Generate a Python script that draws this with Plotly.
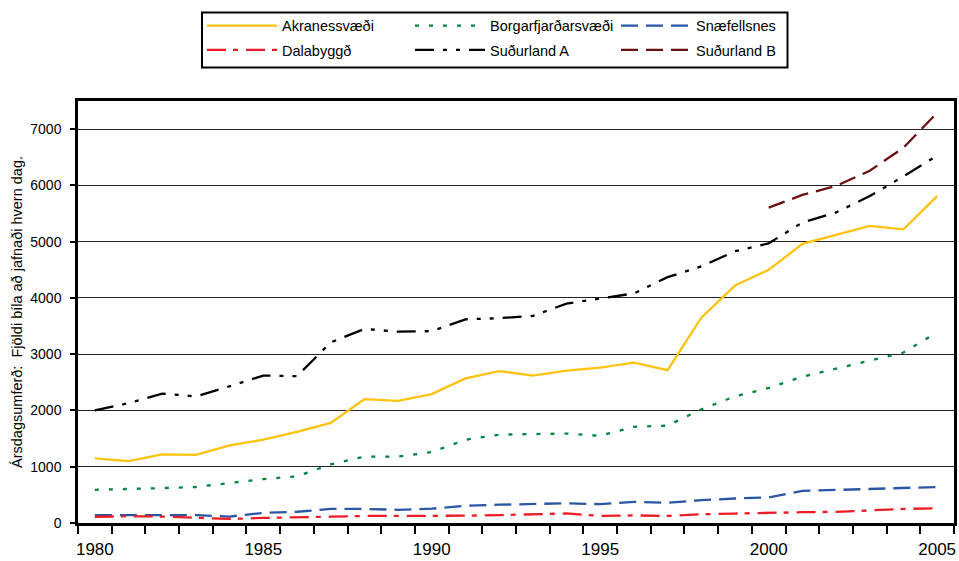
import plotly.graph_objects as go

years = list(range(1980, 2006))
akranes = [1150, 1100, 1220, 1210, 1380, 1480, 1620, 1780, 2200, 2170, 2290, 2570, 2700, 2620,
           2710, 2760, 2850, 2715, 3650, 4220, 4500, 4960, 5120, 5280, 5220, 5810]
borgarfj = [590, 600, 620, 640, 710, 780, 830, 1040, 1180, 1180, 1260, 1480, 1570, 1580,
            1590, 1550, 1710, 1730, 2020, 2250, 2400, 2600, 2740, 2880, 3030, 3390]
snaefells = [140, 140, 150, 140, 115, 180, 200, 250, 250, 235, 255, 305, 325, 340,
             350, 335, 375, 360, 405, 435, 455, 570, 590, 610, 625, 640]
dalabyggd = [110, 120, 115, 95, 72, 90, 95, 112, 125, 125, 125, 130, 140, 155,
             170, 125, 135, 125, 155, 168, 185, 192, 198, 228, 250, 262]
sudurA = [2000, 2130, 2300, 2250, 2430, 2620, 2610, 3210, 3450, 3400, 3410, 3620, 3640, 3680,
          3900, 3985, 4080, 4370, 4560, 4830, 4970, 5340, 5520, 5810, 6160, 6530]
sudurB_years = [2000, 2001, 2002, 2003, 2004, 2005]
sudurB = [5605, 5830, 5990, 6260, 6670, 7290]

y_title = "Ársdagsumferð:  Fjöldi bíla að jafnaði hvern dag."
x_ticks = [1980, 1985, 1990, 1995, 2000, 2005]
y_ticks = [0, 1000, 2000, 3000, 4000, 5000, 6000, 7000]

# name, x, y, colour, dash, legend id
series = [
    ("Akranessvæði", years, akranes, "#FFC20E", "solid", "legend"),
    ("Borgarfjarðarsvæði", years, borgarfj, "#00843F", "4px,10px", "legend2"),
    ("Snæfellsnes", years, snaefells, "#2B55A5", "17px,8px", "legend3"),
    ("Dalabyggð", years, dalabyggd, "#EC1C24", "19px,7px,5px,8px", "legend4"),
    ("Suðurland A", years, sudurA, "#000000", "19px,9px,4px,9px,4px,9px", "legend5"),
    ("Suðurland B", sudurB_years, sudurB, "#6B1013", "17px,8px", "legend6"),
]

fig = go.Figure()
for name, xs, ys, color, dash, leg in series:
    fig.add_trace(go.Scatter(x=xs, y=ys, name=name, mode="lines", legend=leg,
                             line=dict(color=color, width=2.3, dash=dash)))

# plot area: x 78..954, y 101..523 (px)
L, R, T, B = 78, 5, 101, 38
W, H = 959 - L - R, 561 - T - B
def px_x(p):
    return (p - L) / W
def px_y(p):
    return (561 - B - p) / H

leg_common = dict(orientation="v", xanchor="left", yanchor="middle", borderwidth=0,
                  bgcolor="rgba(0,0,0,0)", itemwidth=70, font=dict(size=14.5))
col_left = [202, 410, 616]
row_mid = [25.7, 50]
legend_layout = {}
for i, key in enumerate(["legend", "legend2", "legend3", "legend4", "legend5", "legend6"]):
    legend_layout[key] = dict(leg_common, x=px_x(col_left[i % 3]), y=px_y(row_mid[i // 3]))

fig.update_layout(
    width=959, height=561,
    margin=dict(l=L, r=R, t=T, b=B),
    paper_bgcolor="white", plot_bgcolor="white",
    font=dict(family="Liberation Sans, Arial, sans-serif", color="black", size=14),
    showlegend=True,
    **legend_layout,
    shapes=[dict(type="rect", xref="paper", yref="paper",
                 x0=px_x(202), x1=px_x(787.5), y0=px_y(67.5), y1=px_y(12.5),
                 line=dict(color="black", width=2), fillcolor="rgba(0,0,0,0)", layer="below")],
)
fig.update_xaxes(range=[1979.5, 2005.5], tickvals=x_ticks, ticks="outside", ticklen=9,
                 tickcolor="rgba(0,0,0,0)", showgrid=False,
                 showline=True, linecolor="black", linewidth=2.5, mirror=True,
                 tickfont=dict(size=17), automargin=False,
                 minor=dict(ticks="outside", ticklen=8, tickcolor="black", tickwidth=2,
                            tick0=1980.5, dtick=1, showgrid=False))
fig.update_yaxes(range=[0, 7500], tickvals=y_ticks, ticks="outside", ticklen=5, tickwidth=1.5,
                 tickcolor="black", showgrid=True, gridcolor="#222222", gridwidth=1,
                 showline=True, linecolor="black", linewidth=2.5, mirror=True,
                 tickfont=dict(size=14), zeroline=False, automargin=False,
                 ticklabelstandoff=6,
                 title=dict(text=y_title, font=dict(size=14.5), standoff=5))

fig.write_html("out.html", post_script="document.body.style.margin='0';",
               config={"displayModeBar": False})
